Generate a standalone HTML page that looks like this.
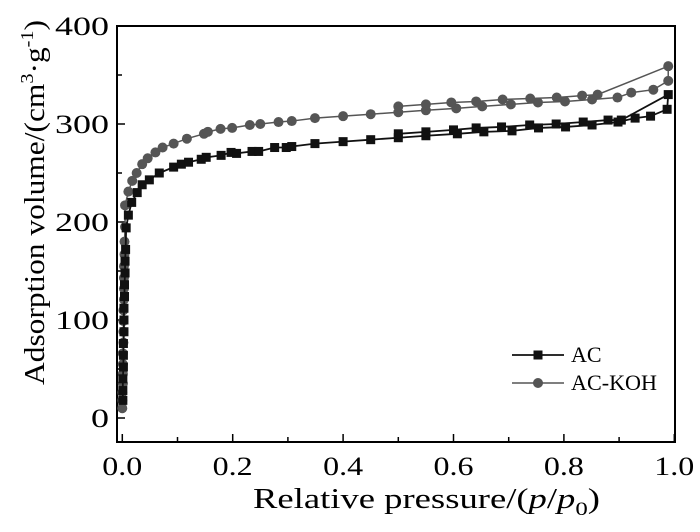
<!DOCTYPE html>
<html><head><meta charset="utf-8"><style>
html,body{margin:0;padding:0;background:#fff;}
svg{display:block;font-family:"Liberation Serif",serif;}
</style></head><body>
<svg id="chart" width="700" height="532" viewBox="0 0 700 532"></svg>
<script>
const acAdsX=[0.001,0.001,0.001,0.002,0.002,0.002,0.003,0.003,0.003,0.004,0.004,0.005,0.005,0.006,0.007,0.011,0.017,0.027,0.036,0.049,0.067,0.093,0.107,0.12,0.143,0.152,0.179,0.197,0.207,0.235,0.247,0.276,0.297,0.307,0.349,0.4,0.45,0.5,0.55,0.607,0.655,0.706,0.754,0.803,0.851,0.898,0.929,0.957,0.987];
const acAdsY=[18,28,40,52,64,76,88,100,112,124,136,148,160,172,194,207,220,230,238,243,250,256,259,261,264,266,268,271,270,272,272,276,276,277,280,282,284,286,288,290,292,293,296,297,299,302,306,308,315];
const acDesX=[0.989,0.904,0.88,0.835,0.786,0.738,0.687,0.641,0.6,0.55,0.5];
const acDesY=[330,304,304,302,300,299,297,296,294,292,290];
const kohAdsX=[0,0,0,0.001,0.001,0.001,0.001,0.002,0.002,0.002,0.002,0.003,0.003,0.003,0.003,0.004,0.004,0.005,0.005,0.011,0.018,0.026,0.036,0.046,0.06,0.073,0.093,0.117,0.148,0.155,0.178,0.199,0.231,0.25,0.283,0.307,0.349,0.4,0.45,0.5,0.55,0.605,0.652,0.704,0.753,0.802,0.851,0.897,0.922,0.962,0.989];
const kohAdsY=[10,18,26,35,45,55,66,77,88,99,110,121,132,143,155,167,180,195,217,231,242,250,259,265,271,276,280,285,290,292,295,296,299,300,302,303,306,308,310,312,314,316,318,320,322,323,325,327,332,335,344];
const kohDesX=[0.989,0.861,0.833,0.787,0.739,0.689,0.641,0.596,0.55,0.5];
const kohDesY=[359,330,329,327,326,325,323,322,320,318];
const xTicks=[0,0.2,0.4,0.6,0.8,1.0];
const xTickLabels=["0.0","0.2","0.4","0.6","0.8","1.0"];
const yTicks=[0,100,200,300,400];
const yTickLabels=["0","100","200","300","400"];

const NS="http://www.w3.org/2000/svg";
const svg=document.getElementById('chart');
const L=117,R=675,T=26,B=442;
function sx(v){return 122.3+v*552;}
function sy(v){return 418-v*0.98;}
function mk(tag,attrs,parent){const e=document.createElementNS(NS,tag);for(const k in attrs)e.setAttribute(k,attrs[k]);(parent||svg).appendChild(e);return e;}

const frame=mk('rect',{x:L,y:T,width:R-L,height:B-T,fill:'none',stroke:'#000','stroke-width':2});



for(let v=0;v<=1.0001;v+=0.1){
  const major=Math.abs(v*5-Math.round(v*5))<1e-6;
  const t=mk('line',{x1:sx(v),x2:sx(v),y1:B,y2:B-(major?8:5),stroke:'#000','stroke-width':1.5});
  
  
}
for(let v=-0;v<=400;v+=50){
  const major=v%100===0;
  const t=mk('line',{x1:L,x2:L+(major?8:5),y1:sy(v),y2:sy(v),stroke:'#000','stroke-width':1.5});
  
  
}
xTicks.forEach((v,i)=>{
  const t=mk('text',{x:sx(v),y:475,'text-anchor':'middle','font-size':26,textLength:40,lengthAdjust:'spacingAndGlyphs'});
  t.textContent=xTickLabels[i];
  
  
});
yTicks.forEach((v,i)=>{
  const w=yTickLabels[i].length*18;
  const t=mk('text',{x:109-w,y:sy(v)+9,'font-size':26,textLength:w,lengthAdjust:'spacingAndGlyphs'});
  t.textContent=yTickLabels[i];
  
  
});

function series(ax,ay,dx,dy,color,width,shape,name){
  const g=mk('g',{});
  
  
  const pts=ax.map((x,i)=>sx(x)+','+sy(ay[i]));
  const dpts=dx.map((x,i)=>sx(x)+','+sy(dy[i]));
  const all=pts.concat(dpts);
  const pl=mk('polyline',{points:all.join(' '),fill:'none',stroke:color,'stroke-width':width},g);
  
  
  const xs=ax.concat(dx),ys=ay.concat(dy);
  xs.forEach((x,i)=>{
    let m;
    if(shape==='sq') m=mk('rect',{x:sx(x)-4.5,y:sy(ys[i])-4.5,width:9,height:9,fill:color},g);
    else m=mk('circle',{cx:sx(x),cy:sy(ys[i]),r:5,fill:color},g);
    
    
  });
}
series(kohAdsX,kohAdsY,kohDesX,kohDesY,'#555',1.5,'c','series-ac-koh');
series(acAdsX,acAdsY,acDesX,acDesY,'#111',1.8,'sq','series-ac');

const lg=mk('g',{});


mk('line',{x1:512,x2:564,y1:355,y2:355,stroke:'#111','stroke-width':1.8},lg);
mk('rect',{x:533.5,y:350.5,width:9,height:9,fill:'#111'},lg);
const t1=mk('text',{x:571,y:362,'font-size':22},lg);t1.textContent='AC';


mk('line',{x1:512,x2:564,y1:383,y2:383,stroke:'#555','stroke-width':1.5},lg);
mk('circle',{cx:538,cy:383,r:5,fill:'#555'},lg);
const t2=mk('text',{x:571,y:390,'font-size':22,textLength:86,lengthAdjust:'spacingAndGlyphs'},lg);t2.textContent='AC-KOH';


</script>
<svg width="700" height="532" style="position:absolute;left:0;top:0;font-family:'Liberation Serif',serif">
<text x="253" y="508" font-size="28" textLength="347" lengthAdjust="spacingAndGlyphs">Relative pressure/(<tspan font-style="italic">p</tspan>/<tspan font-style="italic">p</tspan><tspan font-size="19" dy="7">0</tspan><tspan dy="-7">)</tspan></text>
<text transform="translate(44,385) rotate(-90)" font-size="28" textLength="365" lengthAdjust="spacingAndGlyphs">Adsorption volume/(cm<tspan font-size="18" dy="-11">3</tspan><tspan dy="11">·g</tspan><tspan font-size="18" dy="-11">-1</tspan><tspan dy="11">)</tspan></text>
</svg>
</body></html>
